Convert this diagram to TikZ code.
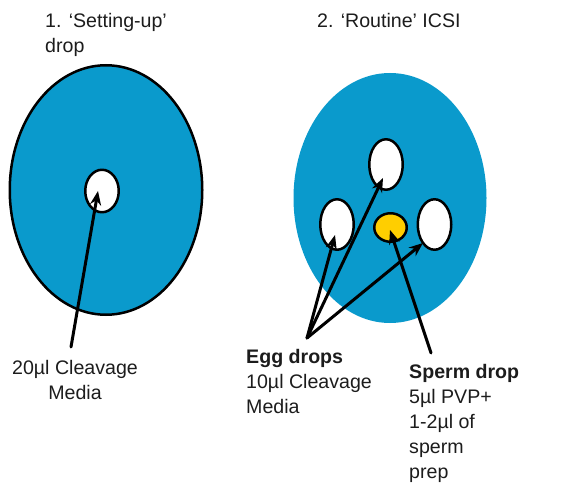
\documentclass[tikz,border=0pt]{standalone}
\usepackage{fontspec}
\setmainfont{Liberation Sans}
\usetikzlibrary{arrows.meta,shapes.geometric}
\definecolor{dropblue}{RGB}{10,154,204}
\definecolor{spermyellow}{RGB}{255,206,0}
\definecolor{inkgray}{RGB}{28,28,28}

\begin{document}
\begin{tikzpicture}[
    x=1pt, y=-1pt, line cap=round, line join=round,
    >={Stealth[length=14pt,width=11pt]},
    dish/.style={ellipse, fill=dropblue, inner sep=0pt},
    drop/.style={ellipse, draw=black, fill=white, line width=2.5pt, inner sep=0pt},
    ptr/.style={->, line width=3pt, black},
    lbl/.style={font=\fontsize{19.6}{25}\selectfont, text=inkgray, inner sep=0pt},
  ]
  \useasboundingbox (0,0) rectangle (562,484);

  % --- titles ---
  \node[lbl, anchor=north west, align=left] (title1) at (45,13.5) {1. ‘Setting-up’\\drop};
  \node[lbl, anchor=base west] (title2) at (317,28) {2. ‘Routine’ ICSI};

  % --- 1: setting-up dish ---
  \node[dish, draw=black, line width=2.5pt, minimum width=192.5pt, minimum height=249.5pt] (dish1) at (106,190) {};
  \node[drop, minimum width=33.5pt, minimum height=42.5pt] (setdrop) at (102,191) {};

  % --- 2: routine ICSI dish ---
  \node[dish, minimum width=193pt, minimum height=250pt] (dish2) at (390,198) {};
  \node[drop, minimum width=33.5pt, minimum height=50.5pt] (eggT) at (386,164.5) {};
  \node[drop, minimum width=33.5pt, minimum height=50.5pt] (eggL) at (337,224.5) {};
  \node[drop, minimum width=33.5pt, minimum height=50.5pt] (eggR) at (434.5,224.5) {};
  \node[drop, fill=spermyellow, minimum width=32.5pt, minimum height=28.5pt] (sperm) at (390.5,227.5) {};

  % --- labels ---
  \node[lbl, anchor=north, align=center] (setlbl) at (75,360) {20µl Cleavage\\Media};
  \node[lbl, anchor=north west, align=left] (egglbl) at (246,349)
    {\textbf{Egg drops}\\10µl Cleavage\\Media};
  \node[lbl, anchor=north west, align=left] (spermlbl) at (409,364)
    {\textbf{Sperm drop}\\5µl PVP+\\1-2µl of\\sperm\\prep};

  % --- pointers ---
  \coordinate (setsrc) at (71,347);
  \coordinate (settip) at (98,191);
  \coordinate (eggsrc) at (307,338);
  \coordinate (tipL) at (335,235);
  \coordinate (tipT) at (383,178);
  \coordinate (tipR) at (423,243);
  \coordinate (spermsrc) at (431,353);
  \coordinate (spermtip) at (390,230);

  \draw[ptr] (setsrc) -- (settip);
  \foreach \t in {tipL,tipT,tipR}
    \draw[ptr] (eggsrc) -- (\t);
  \draw[ptr] (spermsrc) -- (spermtip);
\end{tikzpicture}
\end{document}
